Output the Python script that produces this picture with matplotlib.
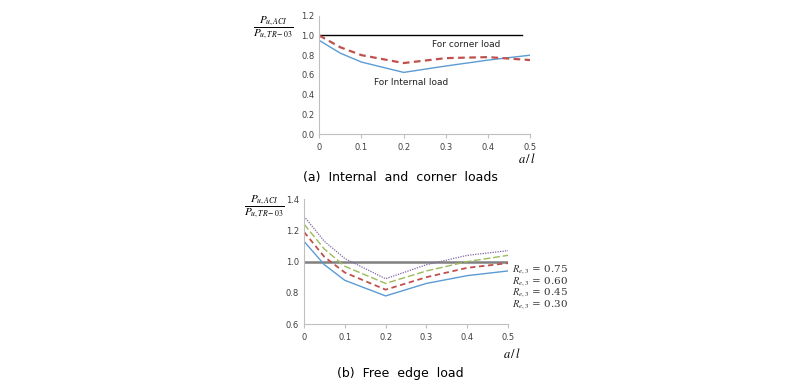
import matplotlib.pyplot as plt
import numpy as np

plt.rcParams['mathtext.fontset'] = 'stix'

# (a) internal and corner loads
a_l = [0, 0.05, 0.1, 0.2, 0.3, 0.4, 0.5]
internal = [0.95, 0.82, 0.73, 0.625, 0.69, 0.75, 0.80]
corner = [1.0, 0.88, 0.80, 0.72, 0.77, 0.78, 0.75]

# (b) free edge load
re_labels = ["0.75", "0.60", "0.45", "0.30"]
re_075 = [1.29, 1.13, 1.02, 0.89, 0.98, 1.04, 1.07]
re_060 = [1.24, 1.08, 0.97, 0.86, 0.94, 1.00, 1.04]
re_045 = [1.19, 1.03, 0.93, 0.82, 0.90, 0.96, 0.99]
re_030 = [1.13, 0.98, 0.88, 0.78, 0.86, 0.91, 0.94]

fig = plt.figure(figsize=(8, 3.83), dpi=100)
ax1 = fig.add_axes([0.399, 0.650, 0.264, 0.309])
ax2 = fig.add_axes([0.380, 0.154, 0.255, 0.326])

tick_col = '#404040'
for ax in (ax1, ax2):
    for s in ['top', 'right']:
        ax.spines[s].set_visible(False)
    ax.spines['left'].set_color('#bfbfbf')
    ax.spines['bottom'].set_color('#bfbfbf')
    ax.tick_params(labelsize=6, colors=tick_col, length=3)
    ax.tick_params(axis='y', length=0)
    ax.tick_params(axis='x', color='#bfbfbf')

# top chart
ax1.plot([0, 0.48], [1.0, 1.0], color='black', lw=1.0)
ax1.plot(a_l, internal, color='#5b9bd5', lw=1.0)
ax1.plot(a_l, corner, color='#c0504d', lw=1.6, dashes=(3, 2))
ax1.set_xlim(0, 0.5)
ax1.set_ylim(0, 1.2)
ax1.set_xticks([0, 0.1, 0.2, 0.3, 0.4, 0.5])
ax1.set_xticklabels(['0', '0.1', '0.2', '0.3', '0.4', '0.5'])
ax1.set_yticks(np.arange(0, 1.21, 0.2))
ax1.set_yticklabels(['0.0', '0.2', '0.4', '0.6', '0.8', '1.0', '1.2'])
ax1.text(0.268, 0.91, 'For corner load', fontsize=6.5, color='#222222', va='center')
ax1.text(0.13, 0.52, 'For Internal load', fontsize=6.5, color='#222222', va='center')

# bottom chart
ax2.axhline(1.0, color='#808080', lw=1.8)
ax2.plot(a_l, re_030, color='#5b9bd5', lw=1.0)
ax2.plot(a_l, re_045, color='#c0504d', lw=1.3, dashes=(3, 2))
ax2.plot(a_l, re_060, color='#9bbb59', lw=1.0, dashes=(5, 2))
ax2.plot(a_l, re_075, color='#8064a2', lw=0.9, dashes=(1, 1))
ax2.set_xlim(0, 0.5)
ax2.set_ylim(0.6, 1.4)
ax2.set_xticks([0, 0.1, 0.2, 0.3, 0.4, 0.5])
ax2.set_xticklabels(['0', '0.1', '0.2', '0.3', '0.4', '0.5'])
ax2.set_yticks([0.6, 0.8, 1.0, 1.2, 1.4])
ax2.set_yticklabels(['0.6', '0.8', '1.0', '1.2', '1.4'])

re_text = '\n'.join(r'$R_{e,3}$ = ' + lab for lab in re_labels)
fig.text(512 / 800, 1 - 287 / 383, re_text, fontsize=7.5, family='serif',
         va='center', ha='left', color='#333333', linespacing=0.85)

# axis labels
frac = r'$\dfrac{P_{u,ACI}}{P_{u,TR-03}}$'
fig.text(273 / 800, 1 - 28 / 383, frac, fontsize=8, ha='center', va='center')
fig.text(264 / 800, 1 - 207 / 383, frac, fontsize=8, ha='center', va='center')
fig.text(527 / 800, 1 - 159 / 383, r'$a\,/\,l$', fontsize=9, ha='center', va='center')
fig.text(512 / 800, 1 - 354 / 383, r'$a\,/\,l$', fontsize=9, ha='center', va='center')

fig.text(400 / 800, 1 - 178 / 383, '(a)  Internal  and  corner  loads', fontsize=9,
         ha='center', va='center')
fig.text(400 / 800, 1 - 373 / 383, '(b)  Free  edge  load', fontsize=9,
         ha='center', va='center')

fig.savefig('out.png', dpi=100)
